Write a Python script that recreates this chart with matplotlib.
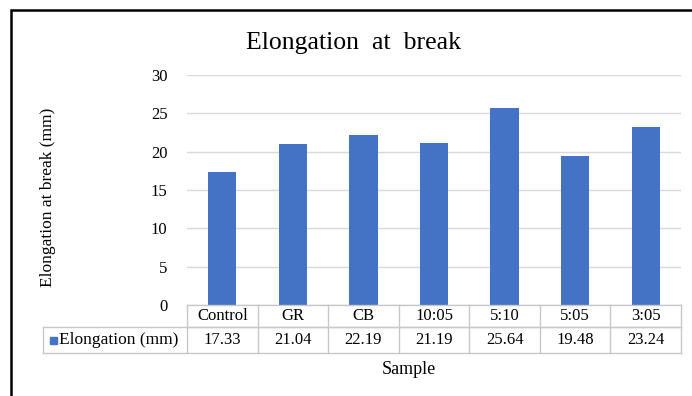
import matplotlib.pyplot as plt
import matplotlib.transforms as mtransforms
from matplotlib.lines import Line2D
from matplotlib.patches import Rectangle

# data
samples = ['Control', 'GR', 'CB', '10:05', '5:10', '5:05', '3:05']
elongation = [17.33, 21.04, 22.19, 21.19, 25.64, 19.48, 23.24]
series_name = 'Elongation (mm)'
yticks = [0, 5, 10, 15, 20, 25, 30]

W, H = 692, 396
bar_color = '#4472C4'
grid_color = '#D9D9D9'
table_color = '#C8C8C8'
plt.rcParams['font.family'] = ['Liberation Serif', 'DejaVu Serif']

def fx(px):
    return px / W

def fy(py):
    return 1 - py / H

fig = plt.figure(figsize=(W / 100, H / 100), dpi=100)
fig.patch.set_facecolor('white')

# plot area in pixels
left, right, top, bottom = 187, 681, 75, 305
ax = fig.add_axes([fx(left), fy(bottom), fx(right - left), (bottom - top) / H])
x = list(range(len(samples)))
ax.bar(x, elongation, width=0.4, color=bar_color, zorder=3)
ax.set_xlim(-0.5, len(samples) - 0.5)
ax.set_ylim(0, 30)
ax.set_yticks(yticks)
ax.set_yticklabels([str(t) for t in yticks], fontsize=12)
ax.tick_params(axis='y', length=0, pad=14)
ax.set_xticks([])
ax.grid(axis='y', color=grid_color, linewidth=1, zorder=0)
for s in ax.spines.values():
    s.set_visible(False)

# data table under the axis
tr = mtransforms.blended_transform_factory(ax.transData, fig.transFigure)
row0, row1, row2 = 305, 327, 353
leg_left = 43
lw = 1
for py in (row0, row1):
    fig.add_artist(Line2D([fx(left), fx(right)], [fy(py), fy(py)], color=table_color, lw=lw))
for py in (row1, row2):
    fig.add_artist(Line2D([fx(leg_left), fx(right)], [fy(py), fy(py)], color=table_color, lw=lw))
fig.add_artist(Line2D([fx(leg_left), fx(leg_left)], [fy(row1), fy(row2)], color=table_color, lw=lw))
for i in range(len(samples) + 1):
    xb = fx(left + (right - left) * i / len(samples))
    fig.add_artist(Line2D([xb, xb], [fy(row0), fy(row2)], color=table_color, lw=lw))
for i, (name, val) in enumerate(zip(samples, elongation)):
    ax.text(i, fy((row0 + row1) / 2), name, transform=tr, ha='center', va='center', fontsize=12)
    ax.text(i, fy((row1 + row2) / 2), f'{val:.2f}', transform=tr, ha='center', va='center', fontsize=12)

# legend key in the table
fig.add_artist(Rectangle((fx(50), fy(344)), fx(7), 7 / H, color=bar_color))
fig.text(fx(59), fy((row1 + row2) / 2), series_name, ha='left', va='center', fontsize=12.5)

# titles
fig.text(fx(353), fy(43), 'Elongation  at  break', ha='center', va='center', fontsize=18.5)
fig.text(fx(409), fy(369), 'Sample', ha='center', va='center', fontsize=13)
fig.text(fx(48), fy(197), 'Elongation at break (mm)', ha='center', va='center',
         rotation=90, fontsize=12.5)

# outer frame
fig.add_artist(Rectangle((fx(11), fy(420)), fx(720), 410 / H, fill=False,
                         edgecolor='black', lw=1.8))

fig.savefig('out.png', dpi=100)
